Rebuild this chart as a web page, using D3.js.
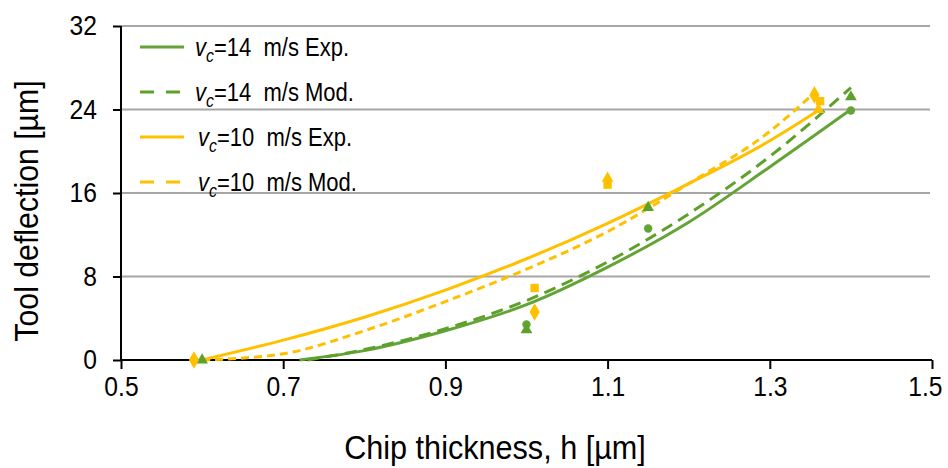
<!DOCTYPE html>
<html>
<head>
<meta charset="utf-8">
<script src="https://cdn.jsdelivr.net/npm/d3@7"></script>
<style>
  body { margin: 0; background: #fff; }
  text { font-family: "Liberation Sans", Arial, sans-serif; fill: #000; }
</style>
</head>
<body>
<div id="chart"></div>
<script>
// tick labels
const xTicks = [0.5, 0.7, 0.9, 1.1, 1.3, 1.5];
const yTicks = [0, 8, 16, 24, 32];

// fitted curves
const green14ExpH = [0.72, 0.8, 0.9, 1.0, 1.1, 1.2, 1.3, 1.4];
const green14ExpV = [0, 0.9, 2.8, 5.3, 8.9, 13.2, 18.5, 24.0];
const green14ModH = [0.73, 0.8, 0.9, 1.0, 1.1, 1.2, 1.3, 1.4];
const green14ModV = [0, 1.0, 3.0, 5.7, 9.4, 14.0, 19.5, 26.1];
const orange10ExpH = [0.6, 0.7, 0.8, 0.9, 1.0, 1.1, 1.2, 1.3, 1.36];
const orange10ExpV = [0, 1.9, 4.1, 6.7, 9.7, 13.1, 16.9, 21.0, 23.9];
const orange10ModH = [0.6, 0.7, 0.8, 0.9, 1.0, 1.1, 1.2, 1.3, 1.355];
const orange10ModV = [0, 0.6, 2.8, 5.6, 8.7, 12.3, 16.9, 21.9, 25.6];

// measured points
const greenTriH = [0.6, 1.0, 1.15, 1.4];
const greenTriV = [0, 2.9, 14.6, 25.2];
const greenDotH = [1.0, 1.15, 1.4];
const greenDotV = [3.4, 12.6, 23.9];
const orangeDiaH = [0.59, 1.01, 1.355];
const orangeDiaV = [0, 4.6, 25.4];
const orangeSqH = [1.01, 1.1, 1.362];
const orangeSqV = [6.9, 16.8, 24.8];
const orangeTriH = [1.1, 1.36];
const orangeTriV = [17.4, 24.0];

const GREEN = '#64a437', GREEN_D = '#5da12a', ORANGE = '#ffc000';

const width = 948, height = 468;
const margin = { left: 121, right: 16, top: 26, bottom: 108 };

const svg = d3.select('#chart').append('svg')
    .attr('width', width)
    .attr('height', height);

const x = d3.scaleLinear().domain([0.5, 1.5]).range([margin.left, width - margin.right]);
const y = d3.scaleLinear().domain([0, 32]).range([height - margin.bottom, margin.top]);

// squeeze text a bit horizontally, the source font is narrow
function condense(sel, k) {
    sel.each(function () {
        const w = this.getComputedTextLength();
        d3.select(this).attr('textLength', w * k).attr('lengthAdjust', 'spacingAndGlyphs');
    });
}

// gridlines
svg.append('g')
    .selectAll('line')
    .data(yTicks.filter(d => d > 0))
    .enter()
    .append('line')
    .attr('x1', x(0.5)).attr('x2', 930)
    .attr('y1', d => y(d)).attr('y2', d => y(d))
    .attr('stroke', '#a6a6a6')
    .attr('stroke-width', 2);

// axes
const xAxis = svg.append('g')
    .attr('transform', `translate(0,${y(0)})`)
    .call(d3.axisBottom(x).tickValues(xTicks).tickSize(9).tickPadding(7).tickFormat(d3.format('.1f')));
const yAxis = svg.append('g')
    .attr('transform', `translate(${x(0.5)},0)`)
    .call(d3.axisLeft(y).tickValues(yTicks).tickSize(8).tickPadding(16));
[xAxis, yAxis].forEach(g => {
    g.select('.domain').attr('stroke', '#000').attr('stroke-width', 2);
    g.selectAll('.tick line').attr('stroke', '#000').attr('stroke-width', 2);
    g.selectAll('.tick text')
        .style('font-family', '"Liberation Sans", Arial, sans-serif')
        .style('font-size', '28px')
        .attr('fill', '#000')
        .call(condense, 0.88);
});
xAxis.select('.domain').attr('d', `M${x(0.5)},0H${x(1.5)}`);
yAxis.select('.domain').attr('d', `M0,${y(0)}V${y(32)}`);
// last label sits against the right edge
xAxis.selectAll('.tick text').filter(d => d === 1.5).attr('text-anchor', 'end').attr('dx', 10);

// axis titles
svg.append('text')
    .attr('x', 495).attr('y', 459)
    .attr('text-anchor', 'middle')
    .style('font-size', '34px')
    .text('Chip thickness, h [µm]')
    .call(condense, 0.9);
svg.append('text')
    .attr('transform', 'translate(38,211) rotate(-90)')
    .attr('text-anchor', 'middle')
    .style('font-size', '34px')
    .text('Tool deflection [µm]')
    .call(condense, 0.89);

// curves
const line = d3.line()
    .x(d => x(d[0]))
    .y(d => y(d[1]))
    .curve(d3.curveMonotoneX);

const series = [
    { h: orange10ExpH, v: orange10ExpV, color: ORANGE, dash: null, label: '=10 m/s Exp.' },
    { h: orange10ModH, v: orange10ModV, color: ORANGE, dash: '8,5', label: '=10 m/s Mod.' },
    { h: green14ExpH, v: green14ExpV, color: GREEN, dash: null, label: '=14 m/s Exp.' },
    { h: green14ModH, v: green14ModV, color: GREEN_D, dash: '12,7', label: '=14 m/s Mod.' }
];

const plot = svg.append('g');
series.forEach(s => {
    plot.append('path')
        .datum(s.h.map((h, i) => [h, s.v[i]]))
        .attr('d', line)
        .attr('fill', 'none')
        .attr('stroke', s.color)
        .attr('stroke-width', 3)
        .attr('stroke-dasharray', s.dash);
});

// markers
const zip = (hs, vs) => hs.map((h, i) => [h, vs[i]]);
const markers = [
    { pts: zip(greenDotH, greenDotV), type: d3.symbolCircle, size: 55, color: GREEN },
    { pts: zip(greenTriH, greenTriV), type: d3.symbolTriangle, size: 60, color: GREEN_D },
    { pts: zip(orangeSqH, orangeSqV), type: d3.symbolSquare, size: 70, color: ORANGE },
    { pts: zip(orangeTriH, orangeTriV), type: d3.symbolTriangle, size: 60, color: ORANGE },
    { pts: zip(orangeDiaH, orangeDiaV), type: d3.symbolDiamond, size: 90, color: ORANGE }
];
markers.forEach(m => {
    plot.selectAll(null)
        .data(m.pts)
        .enter()
        .append('path')
        .attr('transform', d => `translate(${x(d[0])},${y(d[1])})`)
        .attr('d', d3.symbol().type(m.type).size(m.size))
        .attr('fill', m.color);
});

// legend
const legendOrder = [series[2], series[3], series[0], series[1]];
const legend = svg.append('g');
legendOrder.forEach((s, i) => {
    const cy = 47 + i * 45;
    legend.append('line')
        .attr('x1', 140).attr('x2', 184)
        .attr('y1', cy).attr('y2', cy)
        .attr('stroke', s.color)
        .attr('stroke-width', 3)
        .attr('stroke-dasharray', s.dash ? '14,12' : null);
    const t = legend.append('text')
        .attr('x', i < 2 ? 195 : 198)
        .attr('y', cy + 9)
        .style('font-size', '25px');
    t.append('tspan').style('font-style', 'italic').text('v');
    t.append('tspan').style('font-style', 'italic').style('font-size', '18px').attr('dy', 6).text('c');
    t.append('tspan').attr('dy', -6).text(s.label.replace(' m/s', '\u00a0 m/s'));
    t.call(condense, 0.88);
});
</script>
</body>
</html>
